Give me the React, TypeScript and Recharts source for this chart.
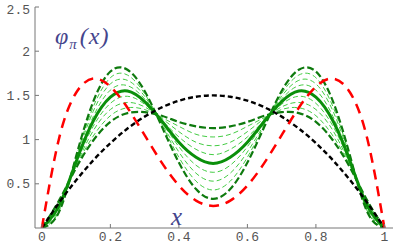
import { LineChart, Line, XAxis, YAxis } from 'recharts';

// x grid of the curves
const xs = [0, 0.05, 0.1, 0.15, 0.2, 0.25, 0.3, 0.35, 0.4, 0.45, 0.5, 0.55, 0.6, 0.65, 0.7, 0.75, 0.8, 0.85, 0.9, 0.95, 1];

// black dashed (asymptotic)
const asy = [0, 0.285, 0.54, 0.765, 0.96, 1.125, 1.26, 1.365, 1.44, 1.485, 1.5, 1.485, 1.44, 1.365, 1.26, 1.125, 0.96, 0.765, 0.54, 0.285, 0];
// red long dashes
const red = [0, 1.01, 1.53, 1.69, 1.6, 1.36, 1.05, 0.74, 0.48, 0.31, 0.25, 0.31, 0.48, 0.74, 1.05, 1.36, 1.6, 1.69, 1.53, 1.01, 0];
// dark green dashed bounds and solid central curve
const greenTop = [0, 0.18, 0.81, 1.43, 1.77, 1.79, 1.55, 1.15, 0.74, 0.44, 0.33, 0.44, 0.74, 1.15, 1.55, 1.79, 1.77, 1.43, 0.81, 0.18, 0];
const greenMid = [0, 0.25, 0.75, 1.21, 1.48, 1.55, 1.43, 1.21, 0.97, 0.8, 0.73, 0.8, 0.97, 1.21, 1.43, 1.55, 1.48, 1.21, 0.75, 0.25, 0];
const greenLow = [0, 0.31, 0.68, 0.99, 1.2, 1.3, 1.31, 1.27, 1.2, 1.15, 1.13, 1.15, 1.2, 1.27, 1.31, 1.3, 1.2, 0.99, 0.68, 0.31, 0];
// thin light green dashed curves inside the band
const thin1 = [0, 0.3, 0.7, 1.04, 1.27, 1.36, 1.34, 1.25, 1.15, 1.06, 1.03, 1.06, 1.15, 1.25, 1.34, 1.36, 1.27, 1.04, 0.7, 0.3, 0];
const thin2 = [0, 0.28, 0.71, 1.1, 1.34, 1.42, 1.37, 1.24, 1.09, 0.97, 0.93, 0.97, 1.09, 1.24, 1.37, 1.42, 1.34, 1.1, 0.71, 0.28, 0];
const thin3 = [0, 0.26, 0.73, 1.15, 1.41, 1.49, 1.4, 1.22, 1.03, 0.89, 0.83, 0.89, 1.03, 1.22, 1.4, 1.49, 1.41, 1.15, 0.73, 0.26, 0];
const thin4 = [0, 0.23, 0.76, 1.26, 1.56, 1.61, 1.46, 1.2, 0.92, 0.71, 0.63, 0.71, 0.92, 1.2, 1.46, 1.61, 1.56, 1.26, 0.76, 0.23, 0];
const thin5 = [0, 0.21, 0.78, 1.32, 1.63, 1.67, 1.49, 1.18, 0.86, 0.62, 0.53, 0.62, 0.86, 1.18, 1.49, 1.67, 1.63, 1.32, 0.78, 0.21, 0];
const thin6 = [0, 0.19, 0.8, 1.37, 1.7, 1.73, 1.52, 1.17, 0.8, 0.53, 0.43, 0.53, 0.8, 1.17, 1.52, 1.73, 1.7, 1.37, 0.8, 0.19, 0];

const xMajor = [0, 0.2, 0.4, 0.6, 0.8, 1];
const xMinor = [0, 0.05, 0.1, 0.15, 0.2, 0.25, 0.3, 0.35, 0.4, 0.45, 0.5, 0.55, 0.6, 0.65, 0.7, 0.75, 0.8, 0.85, 0.9, 0.95, 1];
const yMajor = [0.5, 1, 1.5, 2, 2.5];
const yMinor = [0.1, 0.2, 0.3, 0.4, 0.6, 0.7, 0.8, 0.9, 1.1, 1.2, 1.3, 1.4, 1.6, 1.7, 1.8, 1.9, 2.1, 2.2, 2.3, 2.4];

const thinKeys = ['thin1', 'thin2', 'thin3', 'thin4', 'thin5', 'thin6'];

const rows = xs.map((x, i) => ({
  x,
  asy: asy[i],
  red: red[i],
  greenTop: greenTop[i],
  greenMid: greenMid[i],
  greenLow: greenLow[i],
  thin1: thin1[i],
  thin2: thin2[i],
  thin3: thin3[i],
  thin4: thin4[i],
  thin5: thin5[i],
  thin6: thin6[i],
}));

const X_DOMAIN = [-0.02, 1.025];
const Y_DOMAIN = [0, 2.5];
const frame = '#777';
const labelColor = '#45458c';
const monoFont = '"Liberation Mono", "DejaVu Sans Mono", monospace';

const BottomTick = ({ x, y, payload }: any) => (
  <text x={x} y={y} dy={9} textAnchor="middle" fontFamily={monoFont} fontSize={13} fill="#555">
    {payload.value}
  </text>
);

const LeftTick = ({ x, y, payload }: any) => (
  <text x={x} y={y} dy={4.5} textAnchor="end" fontFamily={monoFont} fontSize={13} fill="#555">
    {payload.value}
  </text>
);

export default function App() {
  return (
    <div style={{ position: 'absolute', left: 0, top: 0, width: 399, height: 246, background: '#fff' }}>
      <LineChart width={399} height={246} data={rows} margin={{ top: 7, right: 6, bottom: 0, left: 0 }}>
        <XAxis xAxisId="main" type="number" dataKey="x" domain={X_DOMAIN} ticks={xMajor} allowDataOverflow
          height={18} tickSize={-4} tickMargin={8} tick={BottomTick} stroke={frame} />
        <XAxis xAxisId="minor" type="number" dataKey="x" domain={X_DOMAIN} ticks={xMinor} allowDataOverflow
          height={0} tickSize={-2} tick={false} axisLine={false} stroke={frame} />
        <XAxis xAxisId="topMajor" orientation="top" type="number" dataKey="x" domain={X_DOMAIN} ticks={xMajor} allowDataOverflow
          height={0} tickSize={-4} tick={false} stroke={frame} />
        <XAxis xAxisId="topMinor" orientation="top" type="number" dataKey="x" domain={X_DOMAIN} ticks={xMinor} allowDataOverflow
          height={0} tickSize={-2} tick={false} axisLine={false} stroke={frame} />
        <YAxis yAxisId="main" type="number" domain={Y_DOMAIN} ticks={yMajor} allowDataOverflow
          width={35} tickSize={-4} tickMargin={9} tick={LeftTick} stroke={frame} />
        <YAxis yAxisId="minor" type="number" domain={Y_DOMAIN} ticks={yMinor} allowDataOverflow
          width={0} tickSize={-2} tick={false} axisLine={false} stroke={frame} />
        <YAxis yAxisId="rightMajor" orientation="right" type="number" domain={Y_DOMAIN} ticks={yMajor} allowDataOverflow
          width={0} tickSize={-4} tick={false} stroke={frame} />
        <YAxis yAxisId="rightMinor" orientation="right" type="number" domain={Y_DOMAIN} ticks={yMinor} allowDataOverflow
          width={0} tickSize={-2} tick={false} axisLine={false} stroke={frame} />

        {thinKeys.map((k) => (
          <Line key={k} xAxisId="main" yAxisId="main" type="natural" dataKey={k} stroke="#44cc44"
            strokeWidth={1} strokeDasharray="5 3" dot={false} isAnimationActive={false} />
        ))}
        <Line xAxisId="main" yAxisId="main" type="natural" dataKey="greenTop" stroke="#0e7a0e"
          strokeWidth={2.2} strokeDasharray="7 3" dot={false} isAnimationActive={false} />
        <Line xAxisId="main" yAxisId="main" type="natural" dataKey="greenLow" stroke="#0e7a0e"
          strokeWidth={2.2} strokeDasharray="7 3" dot={false} isAnimationActive={false} />
        <Line xAxisId="main" yAxisId="main" type="natural" dataKey="greenMid" stroke="#0a8f0a"
          strokeWidth={3} dot={false} isAnimationActive={false} />
        <Line xAxisId="main" yAxisId="main" type="natural" dataKey="asy" stroke="#000"
          strokeWidth={2.4} strokeDasharray="5 3" dot={false} isAnimationActive={false} />
        <Line xAxisId="main" yAxisId="main" type="natural" dataKey="red" stroke="#ff0000"
          strokeWidth={2.5} strokeDasharray="10 7" dot={false} isAnimationActive={false} />
      </LineChart>

      <div style={{ position: 'absolute', left: 55, top: 24, fontFamily: '"Liberation Serif", serif', fontStyle: 'italic',
        fontSize: 24, lineHeight: 1, color: labelColor, whiteSpace: 'nowrap', letterSpacing: 1 }}>
        φ<span style={{ fontSize: 15, position: 'relative', top: 5, marginRight: 2 }}>π</span>(x)
      </div>
      <div style={{ position: 'absolute', left: 171, top: 204, fontFamily: '"Liberation Serif", serif', fontStyle: 'italic',
        fontSize: 25, lineHeight: 1, color: labelColor }}>
        x
      </div>
    </div>
  );
}
